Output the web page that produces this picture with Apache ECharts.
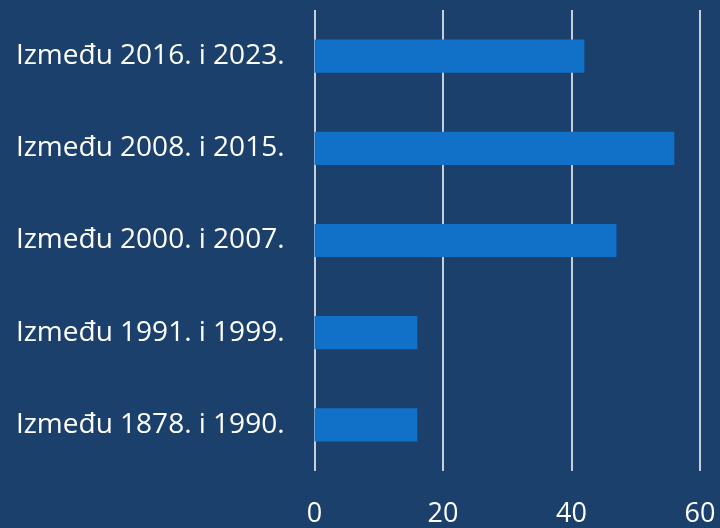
<!DOCTYPE html>
<html>
<head>
<meta charset="utf-8">
<script src="https://cdn.jsdelivr.net/npm/echarts@6/dist/echarts.min.js"></script>
<style>
  html, body { margin: 0; padding: 0; background: #1b406c; }
  #chart { width: 720px; height: 528px; }
</style>
</head>
<body>
<div id="chart"></div>
<script>
// kategorije odozgo prema dolje
var periods = ['Između 2016. i 2023.', 'Između 2008. i 2015.', 'Između 2000. i 2007.', 'Između 1991. i 1999.', 'Između 1878. i 1990.'];
var counts = [42, 56, 47, 16, 16];
var xTicks = [0, 20, 40, 60];

var myChart = echarts.init(document.getElementById('chart'));
var option = {
    backgroundColor: '#1b406c',
    textStyle: { fontFamily: 'Open Sans' },
    grid: { left: 314.5, right: 20, top: 10, bottom: 56, containLabel: false },
    xAxis: {
        type: 'value',
        min: xTicks[0],
        max: xTicks[xTicks.length - 1],
        interval: 20,
        axisLine: { show: false },
        axisTick: { show: false },
        splitLine: { show: true, lineStyle: { color: '#ffffff', width: 1.5 } },
        axisLabel: { color: '#ffffff', fontSize: 27, margin: 30 }
    },
    yAxis: {
        type: 'category',
        inverse: true,
        data: periods,
        axisLine: { show: false },
        axisTick: { show: false },
        axisLabel: { color: '#ffffff', fontSize: 28, margin: 30 }
    },
    series: [
        {
            type: 'bar',
            data: counts,
            barWidth: '36%',
            itemStyle: { color: '#1170c8' },
            silent: true
        }
    ]
};
myChart.setOption(option);
</script>
</body>
</html>
